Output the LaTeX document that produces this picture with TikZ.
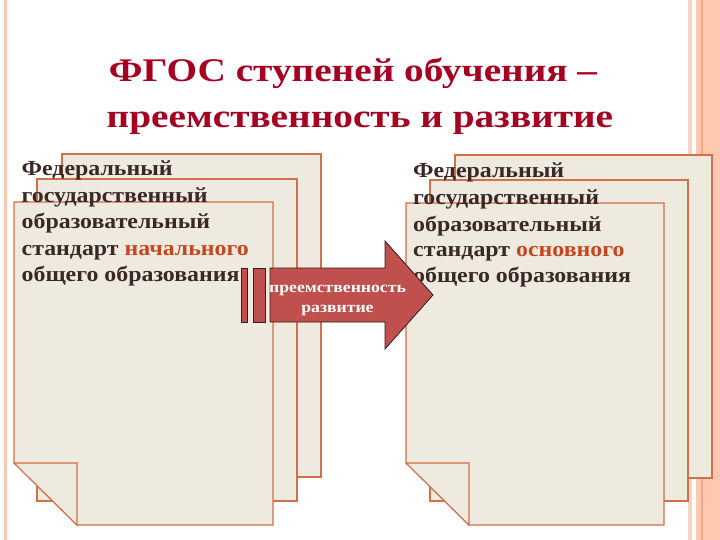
\documentclass[tikz,border=0pt]{standalone}
\usepackage{fontspec}
\setmainfont{Liberation Serif}
\newfontfamily\titlefont[FakeStretch=1.19]{Liberation Serif}
\newfontfamily\bodyfont[FakeStretch=1.11]{Liberation Serif}
\newfontfamily\arrowfont[FakeStretch=1.14]{Liberation Serif}
\definecolor{titlered}{HTML}{A50021}
\definecolor{bodytext}{HTML}{3A2824}
\definecolor{hilite}{HTML}{C8461E}
\definecolor{pagefill}{HTML}{EEEAE0}
\definecolor{pageline}{HTML}{D2704A}
\definecolor{arrowred}{HTML}{C0504D}
\definecolor{arrowdark}{HTML}{3A1A1A}
\definecolor{bordpink}{HTML}{F8C8B4}
\definecolor{bordlight}{HTML}{F6D4C8}
\definecolor{bordsalmon}{HTML}{FDC7B0}
\definecolor{bordstripe}{HTML}{F0A888}
\begin{document}
\begin{tikzpicture}[x=1pt,y=-1pt,
  page/.style={fill=pagefill, draw=pageline, line width=1.1pt, line join=miter},
  arrowpart/.style={fill=arrowred, draw=arrowdark, line width=0.8pt},
  titletext/.style={anchor=base, inner sep=0pt, text=titlered, font=\titlefont\fontsize{33}{40}\selectfont\bfseries},
  bodyline/.style={anchor=base west, inner sep=0pt, text=bodytext, font=\bodyfont\fontsize{21.5}{26}\selectfont\bfseries},
  arrowtext/.style={anchor=base, inner sep=0pt, text=white, font=\arrowfont\fontsize{15.5}{20}\selectfont\bfseries}]
\useasboundingbox (0,0) rectangle (720,540);
\fill[white] (0,0) rectangle (720,540);
% borders
\fill[bordpink] (4,0) rectangle (7,540);
\fill[bordlight] (688,0) rectangle (692,540);
\fill[bordsalmon] (696,0) rectangle (720,540);
\fill[bordstripe] (701,0) rectangle (703,540);
% title
\node[titletext] (t1) at (353,82) {ФГОС ступеней обучения –};
\node[titletext] (t2) at (360,128) {преемственность и развитие};
% left stack
\draw[page] (62,154) rectangle (321,477);
\draw[page] (37,179) rectangle (297,501);
\draw[page] (14,202) -- (273,202) -- (273,525) -- (77,525) -- (14,463) -- cycle;
\draw[page] (14,463) -- (77,463) -- (77,525) -- cycle;
% right stack
\draw[page] (455,155) rectangle (712,478);
\draw[page] (430,180) rectangle (688,501);
\draw[page] (406,203) -- (664,203) -- (664,525) -- (469,525) -- (406,463) -- cycle;
\draw[page] (406,463) -- (469,463) -- (469,525) -- cycle;
% left text
\node[bodyline] (l1) at (21.5,176) {Федеральный};
\node[bodyline] (l2) at (21.5,203) {государственный};
\node[bodyline] (l3) at (21.5,229) {образовательный};
\node[bodyline] (l4) at (21.5,255) {стандарт \textcolor{hilite}{начального}};
\node[bodyline] (l5) at (21.5,281) {общего образования};
% right text
\node[bodyline] (r1) at (413,178) {Федеральный};
\node[bodyline] (r2) at (413,205) {государственный};
\node[bodyline] (r3) at (413,231) {образовательный};
\node[bodyline] (r4) at (413,256) {стандарт \textcolor{hilite}{основного}};
\node[bodyline] (r5) at (413,282) {общего образования};
% arrow
\draw[arrowpart] (241,268) rectangle (247,322);
\draw[arrowpart] (253,268) rectangle (265,322);
\draw[arrowpart] (270,268) -- (385,268) -- (385,241) -- (433,295) -- (385,349) -- (385,322) -- (270,322) -- cycle;
\node[arrowtext] (a1) at (337.5,292.5) {преемственность};
\node[arrowtext] (a2) at (337.5,312.5) {развитие};
\end{tikzpicture}
\end{document}
